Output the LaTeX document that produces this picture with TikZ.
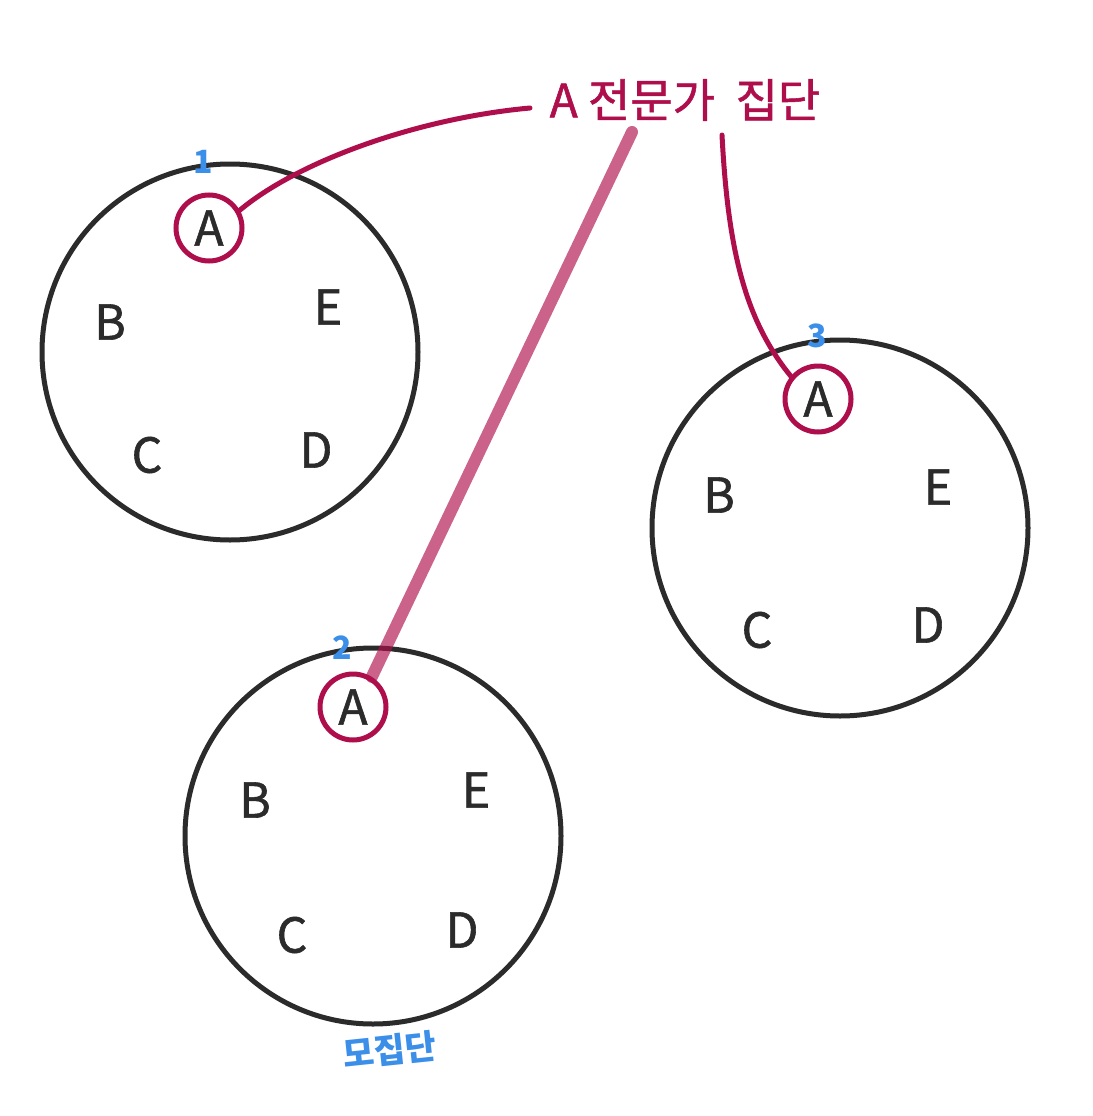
\documentclass[tikz,border=0pt]{standalone}
\usepackage{fontspec}
\newfontfamily\kr{Noto Sans CJK KR}
\newfontfamily\krb[FakeBold=1.2]{Noto Sans CJK KR}
\definecolor{ink}{HTML}{2B2B2B}
\definecolor{crim}{HTML}{AE0F4C}
\definecolor{sky}{HTML}{3B8FE8}
\begin{document}
\begin{tikzpicture}[x=1pt,y=-1pt,
  bigc/.style={circle,draw=ink,line width=5pt,minimum size=376pt,inner sep=0pt},
  acirc/.style={circle,draw=crim,line width=5pt,minimum size=66pt,inner sep=0pt,text=ink,font=\krb\fontsize{48}{48}\selectfont},
  letter/.style={text=ink,font=\krb\fontsize{48}{48}\selectfont,inner sep=0pt},
  num/.style={text=sky,font=\kr\bfseries\fontsize{32}{32}\selectfont,inner sep=0pt},
  conn/.style={draw=crim,line width=5pt,line cap=round},
  thick conn/.style={draw=crim,line width=12pt,opacity=0.65,line cap=round}
]
\useasboundingbox[fill=white] (0,0) rectangle (1092,1116);

% big circles
\node[bigc] (c1) at (230,352) {};
\node[bigc] (c2) at (373,836) {};
\node[bigc] (c3) at (840,528) {};

% A circles
\node[acirc] (a1) at (209,228) {A};
\node[acirc] (a2) at (353,707) {A};
\node[acirc] (a3) at (818,399) {A};

% letters circle 1
\node[letter] (b1) at (110,322) {B};
\node[letter] (e1) at (328,307) {E};
\node[letter] (cc1) at (147,455) {C};
\node[letter] (d1) at (316,450) {D};
% circle 2
\node[letter] (b2) at (255,800) {B};
\node[letter] (e2) at (476,790) {E};
\node[letter] (cc2) at (292,935) {C};
\node[letter] (d2) at (462,930) {D};
% circle 3
\node[letter] (b3) at (719,495) {B};
\node[letter] (e3) at (938,487) {E};
\node[letter] (cc3) at (757,630) {C};
\node[letter] (d3) at (928,625) {D};

% numbers
\node[num] (n1) at (203,162) {1};
\node[num] (n2) at (342,648) {2};
\node[num] (n3) at (817,336) {3};
\node[text=sky,font=\kr\bfseries\fontsize{34}{34}\selectfont,inner sep=0pt,rotate=6] (mo) at (390,1050) {모집단};

% title
\node[text=crim,font=\krb\fontsize{46}{46}\selectfont,inner sep=0pt] (t) at (685,100) {A 전문가\ \ 집단};

\coordinate (s1) at (530,108);
\coordinate (s2) at (632,132);
\coordinate (s3) at (722,135);

\draw[conn] (s1) .. controls (420,118) and (300,160) .. (a1.30);
\draw[thick conn] (s2) -- (a2.58);
\draw[conn] (s3) .. controls (728,250) and (745,320) .. (a3.140);
\end{tikzpicture}
\end{document}
